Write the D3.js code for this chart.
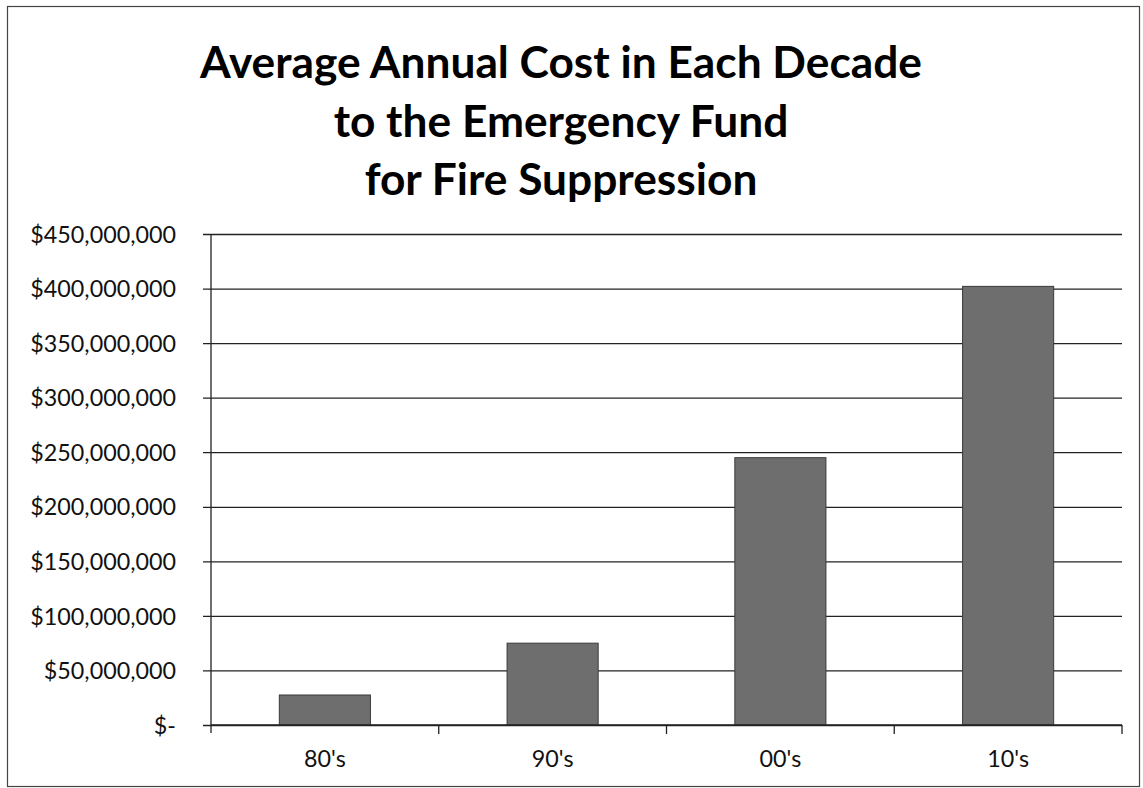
<!DOCTYPE html>
<html>
<head>
<meta charset="utf-8">
<script src="https://cdn.jsdelivr.net/npm/d3@7"></script>
<style>
  html, body { margin: 0; padding: 0; background: #fff; }
  svg { display: block; }
  .tick text { font-family: Lato, "Open Sans", sans-serif; fill: #111; }
</style>
</head>
<body>
<div id="chart"></div>
<script>
const decades = ["80's", "90's", "00's", "10's"];
const avgCost = [27500000, 75000000, 245000000, 402000000];
const yTicks = [0, 50000000, 100000000, 150000000, 200000000, 250000000, 300000000, 350000000, 400000000, 450000000];
const titleLines = ["Average Annual Cost in Each Decade", "to the Emergency Fund", "for Fire Suppression"];

const W = 1143, H = 788;
const margin = { top: 234, right: 21, bottom: 63, left: 211 };
const plotW = W - margin.right - margin.left;

const svg = d3.select("#chart").append("svg")
    .attr("width", W)
    .attr("height", H);

// chart frame
svg.append("rect")
    .attr("x", 7.5).attr("y", 6.5)
    .attr("width", W - 11).attr("height", H - 8)
    .attr("fill", "none")
    .attr("stroke", "#444")
    .attr("stroke-width", 1.2);

const x = d3.scaleBand()
    .domain(decades)
    .range([margin.left, W - margin.right])
    .paddingInner(0.6)
    .paddingOuter(0.3);

const y = d3.scaleLinear()
    .domain([0, 450000000])
    .range([H - margin.bottom, margin.top]);

const money = d => d === 0 ? "$-" : "$" + d3.format(",")(d);

// gridlines + y labels
const yAxis = svg.append("g")
    .attr("transform", `translate(${margin.left},0)`)
    .call(d3.axisLeft(y).tickValues(yTicks).tickFormat(money).tickSize(8).tickPadding(0));
yAxis.select(".domain").remove();
yAxis.selectAll(".tick line")
    .attr("x1", -8)
    .attr("x2", plotW)
    .attr("stroke", "#222")
    .attr("stroke-width", 1.3);
yAxis.selectAll(".tick text")
    .attr("x", -35)
    .attr("dy", "0.35em")
    .style("font-size", "23.3px");

// bars
svg.append("g").selectAll("rect")
    .data(decades.map((d, i) => ({ decade: d, value: avgCost[i] })))
    .join("rect")
    .attr("x", d => x(d.decade))
    .attr("y", d => y(d.value))
    .attr("width", x.bandwidth())
    .attr("height", d => y(0) - y(d.value))
    .attr("fill", "#6e6e6e")
    .attr("stroke", "#3a3a3a")
    .attr("stroke-width", 1);

// left vertical axis line
svg.append("line")
    .attr("x1", margin.left).attr("x2", margin.left)
    .attr("y1", margin.top).attr("y2", y(0) + 8)
    .attr("stroke", "#222").attr("stroke-width", 1.3);

// x axis with ticks at category boundaries
const xAxis = svg.append("g")
    .attr("transform", `translate(0,${y(0)})`)
    .call(d3.axisBottom(x).tickSize(0).tickPadding(25));
xAxis.select(".domain")
    .attr("d", `M${margin.left},0H${W - margin.right}`)
    .attr("stroke", "#222").attr("stroke-width", 1.3);
xAxis.selectAll(".tick text").style("font-size", "23.3px");

const bandEdges = decades.map((d, i) => margin.left + plotW * (i + 1) / decades.length);
xAxis.selectAll(".bound")
    .data(bandEdges)
    .join("line")
    .attr("class", "bound")
    .attr("x1", d => d).attr("x2", d => d)
    .attr("y1", 0).attr("y2", 9)
    .attr("stroke", "#222").attr("stroke-width", 1.3);

// title, sized so the first line spans the same width as the original
const title = svg.append("g")
    .attr("font-family", "Lato, 'Open Sans', sans-serif")
    .attr("font-weight", "bold")
    .attr("text-anchor", "middle")
    .attr("fill", "#000");
const baselines = [78, 137, 195];
const lines = title.selectAll("text")
    .data(titleLines)
    .join("text")
    .attr("x", 561)
    .attr("y", (d, i) => baselines[i])
    .style("font-size", "40px")
    .text(d => d);
const w0 = lines.node().getComputedTextLength();
lines.style("font-size", (40 * 722 / w0) + "px");
</script>
</body>
</html>
